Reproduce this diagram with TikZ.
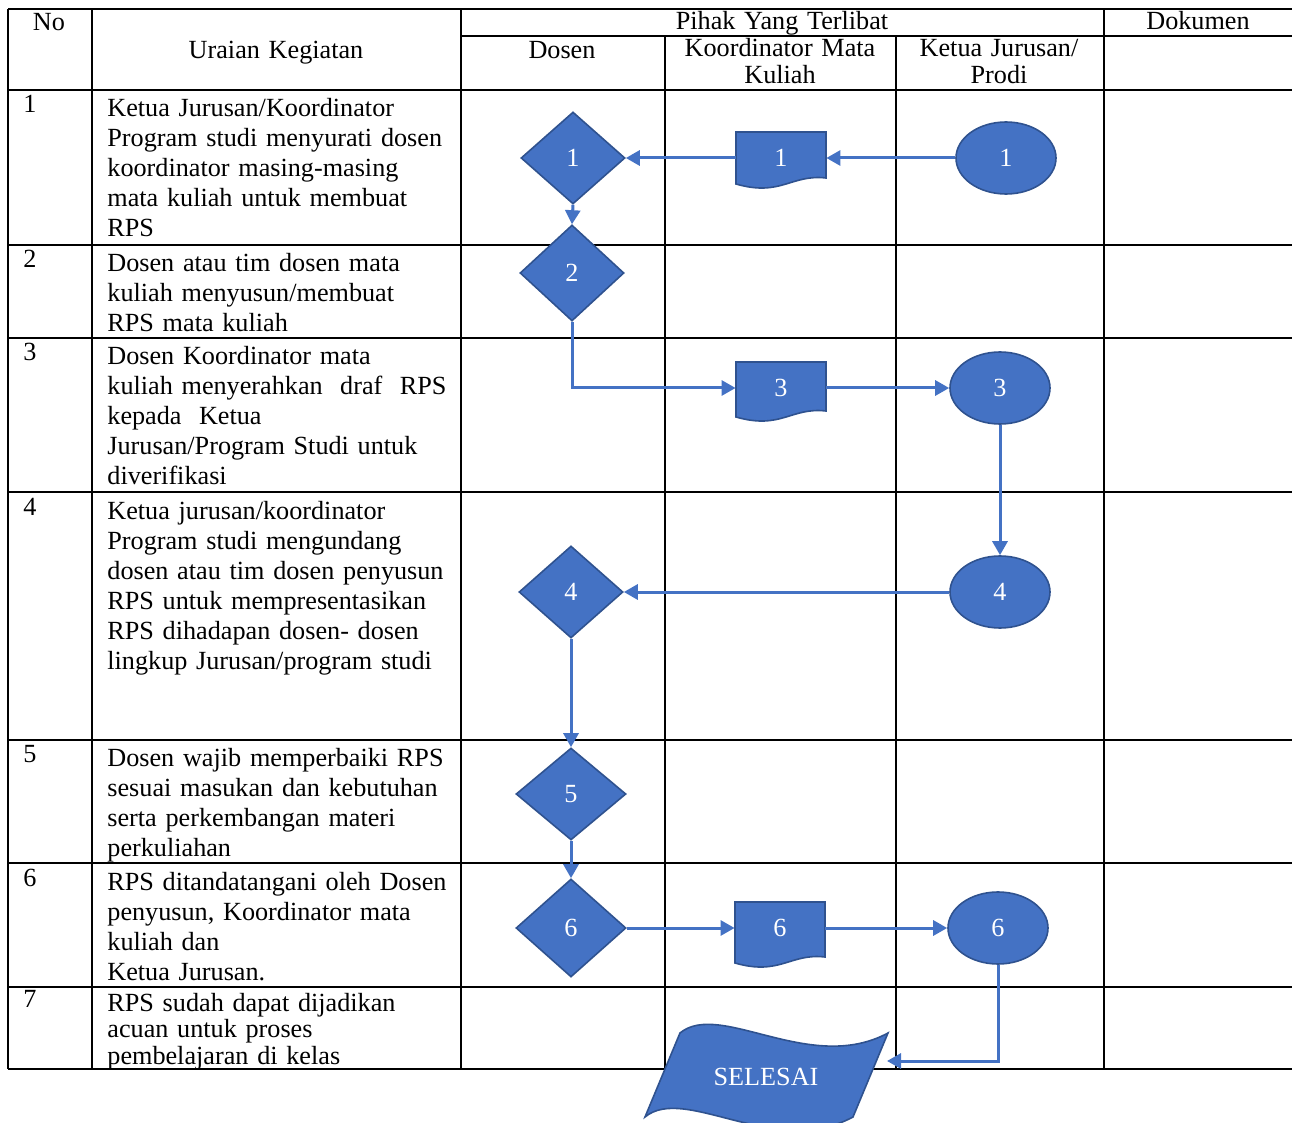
\documentclass[tikz,border=0pt]{standalone}
\usepackage{fontspec}
\setmainfont{Liberation Serif}
\usetikzlibrary{shapes.geometric,arrows.meta}

\definecolor{flowblue}{HTML}{4472C4}
\definecolor{flowedge}{HTML}{2F528F}

% document symbol with a wavy lower edge; #4 = depth of its right-hand corner
\newcommand{\dokumen}[4]{%
  \begin{scope}[shift={(#2)}]
    \filldraw[shape body] (-45,-26) -- (45,-26) -- (45,#4)
      .. controls (10,#4-4) and (0,#4+19) .. (-45,#4+6) -- cycle;
  \end{scope}
  \node[doc label] (#1) at (#2) {#3};
}

\begin{document}
\begin{tikzpicture}[
  x=0.5pt, y=-0.5pt,
  font=\fontsize{13.1pt}{15pt}\selectfont,
  grid line/.style={line width=1pt, black},
  shape body/.style={fill=flowblue, draw=flowedge, line width=0.8pt},
  decision/.style={diamond, shape body, minimum width=52pt, minimum height=46pt, inner sep=0pt, text=white},
  actor/.style={ellipse, shape body, minimum width=50pt, minimum height=36pt, inner sep=0pt, text=white},
  doc label/.style={rectangle, minimum width=45pt, minimum height=26pt, inner sep=0pt, text=white},
  flow/.style={flowblue, line width=1.5pt, -{Triangle[length=7pt,width=7.5pt]}},
  cell/.style={anchor=base west, inner sep=0pt, align=left, text width=178pt},
  num/.style={anchor=base west, inner sep=0pt},
  head/.style={anchor=base, inner sep=0pt, align=center, text width=110pt},
  tight/.style={font=\fontsize{13.1pt}{13.4pt}\selectfont}
]
  \useasboundingbox (0,0) rectangle (1292,1123);

  % Table frame: header rules, row rules and column rules
  \draw[grid line] (8,9) -- (1292,9);
  \draw[grid line] (461,36) -- (1292,36);
  \foreach \y in {90,245,338,492,740,863,987,1069}
    \draw[grid line] (8,\y) -- (1292,\y);
  \foreach \x in {8,92,461,1104}
    \draw[grid line] (\x,9) -- (\x,1069);
  \foreach \x in {665,896}
    \draw[grid line] (\x,36) -- (\x,1069);

  % Header texts
  \node[head] (hno) at (49,31) {No};
  \node[head] (huraian) at (276,59) {Uraian Kegiatan};
  \node[head] (hpihak) at (782,30) {Pihak Yang Terlibat};
  \node[head] (hdok) at (1198,30) {Dokumen};
  \node[head] (hdosen) at (562,59) {Dosen};
  \node[head, tight] (hkoor) at (780,57) {Koordinator Mata\\Kuliah};
  \node[head, tight] (hketua) at (999,57) {Ketua Jurusan/\\Prodi};

  % Row numbers
  \foreach \n/\y in {1/113,2/268,3/361,4/516,5/762,6/886,7/1007}
    \node[num] (no\n) at (23,\y) {\n};

  % Activity descriptions
  \node[cell] (step1) at (107,117) {Ketua Jurusan/Koordinator\\Program studi menyurati dosen\\koordinator masing-masing\\mata kuliah untuk membuat\\RPS};
  \node[cell] (step2) at (107,272) {Dosen atau tim dosen mata\\kuliah menyusun/membuat\\RPS mata kuliah};
  \node[cell] (step3) at (107,365) {Dosen Koordinator mata\\kuliah menyerahkan\ \ draf\ \ RPS\\kepada\ \ Ketua\\Jurusan/Program Studi untuk\\diverifikasi};
  \node[cell] (step4) at (107,520) {Ketua jurusan/koordinator\\Program studi mengundang\\dosen atau tim dosen penyusun\\RPS untuk mempresentasikan\\RPS dihadapan dosen- dosen\\lingkup Jurusan/program studi};
  \node[cell] (step5) at (107,766) {Dosen wajib memperbaiki RPS\\sesuai masukan dan kebutuhan\\serta perkembangan materi\\perkuliahan};
  \node[cell] (step6) at (107,890) {RPS ditandatangani oleh Dosen\\penyusun, Koordinator mata\\kuliah dan\\Ketua Jurusan.};
  \node[cell, tight] (step7) at (107,1011) {RPS sudah dapat dijadikan\\acuan untuk proses\\pembelajaran di kelas};

  % Dosen lane
  \node[decision] (d1) at (573,158) {1};
  \node[decision, minimum height=48pt] (d2) at (572,273) {2};
  \node[decision] (d4) at (571,592) {4};
  \node[decision, minimum width=55pt] (d5) at (571,794) {5};
  \node[decision, minimum width=55pt, minimum height=49pt] (d6) at (571,928) {6};

  % Koordinator Mata Kuliah lane
  \dokumen{doc1}{781,158}{1}{20}
  \dokumen{doc3}{781,388}{3}{23}
  \dokumen{doc6}{780,928}{6}{29}

  % Ketua Jurusan/Prodi lane
  \node[actor] (e1) at (1006,158) {1};
  \node[actor] (e3) at (1000,388) {3};
  \node[actor] (e4) at (1000,592) {4};
  \node[actor] (e6) at (998,928) {6};

  % Closing banner, partly below the table
  \filldraw[shape body] (680,1033) .. controls (720,1000) and (810,1075) .. (888,1033)
    -- (853,1117) .. controls (775,1159) and (685,1084) .. (645,1117) -- cycle;
  \node[text=white] (selesai) at (766,1077) {SELESAI};
  \coordinate (selesai in) at (887,1061);

  % Flow connectors
  \draw[flow] (e1.west) -- (doc1.east);
  \draw[flow] (doc1.west) -- (d1.east);
  \draw[flow] (d1.south) -- (d2.north);
  \draw[flow] (d2.south) |- (doc3.west);
  \draw[flow] (doc3.east) -- (e3.west);
  \draw[flow] (e3.south) -- (e4.north);
  \draw[flow] (e4.west) -- (d4.east);
  \draw[flow] (d4.south) -- (d5.north);
  \draw[flow] (d5.south) -- (d6.north);
  \draw[flow] (d6.east) -- (doc6.west);
  \draw[flow] (doc6.east) -- (e6.west);
  \draw[flow] (e6.south) |- (selesai in);

\end{tikzpicture}
\end{document}
